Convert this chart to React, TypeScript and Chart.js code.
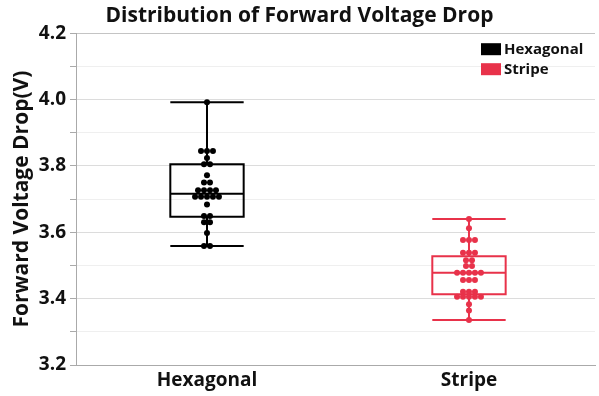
import React, { useEffect, useRef } from "react";
import { Chart, registerables } from "chart.js";

Chart.register(...registerables);

// ---- data ----
const categories = ["Hexagonal", "Stripe"];
const hexagonalValues = [
  3.992,
  3.845, 3.845, 3.845,
  3.824,
  3.805, 3.805,
  3.772,
  3.75, 3.75,
  3.727, 3.727, 3.727, 3.727,
  3.707, 3.707, 3.707, 3.707, 3.707,
  3.684,
  3.649, 3.649,
  3.63, 3.63,
  3.598,
  3.559, 3.559,
];
const stripeValues = [
  3.64,
  3.612,
  3.577, 3.577, 3.577,
  3.538, 3.538, 3.538,
  3.516, 3.516,
  3.498, 3.498,
  3.478, 3.478, 3.478, 3.478, 3.478,
  3.456, 3.456, 3.456,
  3.421, 3.421, 3.421,
  3.406, 3.406, 3.406, 3.406, 3.406,
  3.383,
  3.364,
  3.336,
];
const boxLow = [3.559, 3.336];
const boxQ1 = [3.647, 3.413];
const boxMedian = [3.716, 3.478];
const boxQ3 = [3.805, 3.528];
const boxHigh = [3.992, 3.64];
const seriesValues = [hexagonalValues, stripeValues];
const seriesColors = ["#000000", "#E8324A"];
const yMin = 3.2;
const yMax = 4.2;
const yStep = 0.1;

const FONT = "'Open Sans', 'Noto Sans', sans-serif";
const DOT_SPACING = 0.0228; // x-units between dots in a swarm row
const BOX_HALF = 0.14; // x-units

function swarm(values: number[], center: number) {
  const groups = new Map<string, number[]>();
  values.forEach((v) => {
    const k = v.toFixed(3);
    if (!groups.has(k)) groups.set(k, []);
    groups.get(k)!.push(v);
  });
  const pts: { x: number; y: number }[] = [];
  groups.forEach((arr) => {
    const n = arr.length;
    arr.forEach((v, i) => {
      pts.push({ x: center + (i - (n - 1) / 2) * DOT_SPACING, y: v });
    });
  });
  return pts;
}

const boxPlugin = {
  id: "boxPlugin",
  beforeDatasetsDraw(chart: any) {
    const { ctx, scales } = chart;
    const xs = scales.x;
    const ys = scales.y;
    ctx.save();
    categories.forEach((_, i) => {
      const xl = xs.getPixelForValue(i - BOX_HALF);
      const xr = xs.getPixelForValue(i + BOX_HALF);
      const xc = xs.getPixelForValue(i);
      const yLow = ys.getPixelForValue(boxLow[i]);
      const yQ1 = ys.getPixelForValue(boxQ1[i]);
      const yMed = ys.getPixelForValue(boxMedian[i]);
      const yQ3 = ys.getPixelForValue(boxQ3[i]);
      const yHigh = ys.getPixelForValue(boxHigh[i]);
      ctx.strokeStyle = seriesColors[i];
      ctx.lineWidth = 2;
      ctx.beginPath();
      ctx.rect(xl, yQ3, xr - xl, yQ1 - yQ3);
      ctx.moveTo(xl, yMed);
      ctx.lineTo(xr, yMed);
      ctx.moveTo(xc, yQ1);
      ctx.lineTo(xc, yLow);
      ctx.moveTo(xc, yQ3);
      ctx.lineTo(xc, yHigh);
      ctx.moveTo(xl, yLow);
      ctx.lineTo(xr, yLow);
      ctx.moveTo(xl, yHigh);
      ctx.lineTo(xr, yHigh);
      ctx.stroke();
    });
    ctx.restore();
  },
};

const legendPlugin = {
  id: "legendInside",
  afterDatasetsDraw(chart: any) {
    const { ctx, chartArea } = chart;
    const x = chartArea.right - 114;
    const y = chartArea.top + 10;
    ctx.save();
    chart.data.datasets.forEach((ds: any, i: number) => {
      const yy = y + i * 20;
      ctx.fillStyle = ds.backgroundColor;
      ctx.fillRect(x, yy, 20, 12);
      ctx.fillStyle = "#111";
      ctx.font = `bold 15px ${FONT}`;
      ctx.textBaseline = "middle";
      ctx.textAlign = "left";
      ctx.fillText(ds.label, x + 23, yy + 6.5);
    });
    ctx.restore();
  },
};

export default function App() {
  const ref = useRef<HTMLCanvasElement | null>(null);
  useEffect(() => {
    if (!ref.current) return;
    const isMajor = (v: number) => Math.round(v * 10) % 2 === 0;
    const chart = new Chart(ref.current, {
      type: "scatter",
      data: {
        datasets: categories.map((c, i) => ({
          label: c,
          data: swarm(seriesValues[i], i),
          backgroundColor: seriesColors[i],
          borderColor: seriesColors[i],
          pointRadius: 3,
          pointBorderWidth: 0,
        })),
      },
      options: {
        animation: false,
        responsive: false,
        devicePixelRatio: 1,
        layout: { padding: { left: 0, right: 0, top: 0, bottom: 0 } },
        plugins: {
          legend: { display: false },
          tooltip: { enabled: false },
          title: {
            display: true,
            text: "Distribution of Forward Voltage Drop",
            font: { family: FONT, size: 21, weight: "bold" },
            color: "#111",
            padding: { top: 3, bottom: 5 },
          },
        },
        scales: {
          x: {
            type: "linear",
            min: -0.5,
            max: 1.481,
            afterBuildTicks: (s: any) => {
              s.ticks = categories.map((_, i) => ({ value: i }));
            },
            ticks: {
              callback: (v: any) => categories[v as number] ?? "",
              font: { family: FONT, size: 19, weight: "bold" },
              color: "#111",
              padding: 4,
              maxRotation: 0,
              autoSkip: false,
            },
            grid: { display: false, drawTicks: false },
            border: { display: true, color: "#aaaaaa", width: 1 },
            afterFit: (s: any) => {
              s.height = 31;
            },
          },
          y: {
            min: yMin,
            max: yMax,
            ticks: {
              stepSize: yStep,
              callback: (v: any) => (isMajor(v) ? Number(v).toFixed(1) : ""),
              font: { family: FONT, size: 19, weight: "bold" },
              color: "#111",
              padding: 4,
              autoSkip: false,
            },
            grid: {
              color: (ctx: any) => {
                const v = ctx.tick ? ctx.tick.value : 0;
                if (Math.abs(v - yMax) < 1e-6) return "#c4c4c4";
                return isMajor(v) ? "#dcdcdc" : "#efefef";
              },
              tickColor: "#aaaaaa",
              tickLength: 6,
              drawTicks: true,
            },
            border: { display: true, color: "#aaaaaa", width: 1 },
            title: {
              display: true,
              text: "Forward Voltage Drop(V)",
              font: { family: FONT, size: 21, weight: "bold" },
              color: "#111",
              padding: { top: 9, bottom: 0 },
            },
            afterFit: (s: any) => {
              s.width = 76;
            },
          },
        },
      },
      plugins: [boxPlugin, legendPlugin],
    } as any);
    return () => chart.destroy();
  }, []);
  return (
    <div style={{ position: "fixed", left: 0, top: 0, width: 599, height: 396, background: "#fff" }}>
      <canvas ref={ref} width={599} height={396} style={{ width: 599, height: 396, display: "block" }} />
    </div>
  );
}
